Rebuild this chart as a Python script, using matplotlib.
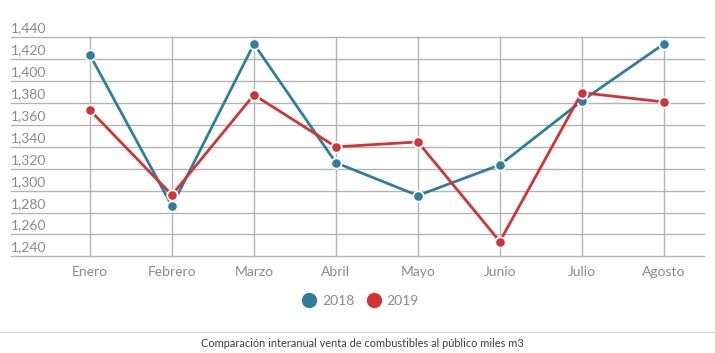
import matplotlib
matplotlib.use("Agg")
import matplotlib.pyplot as plt
from matplotlib.lines import Line2D

# ---------------------------------------------------------------------------
# Data (miles m3)
# ---------------------------------------------------------------------------
MONTHS = ["Enero", "Febrero", "Marzo", "Abril", "Mayo", "Junio", "Julio", "Agosto"]
SALES_2018 = [1424, 1286, 1434, 1325.5, 1295.5, 1323.5, 1382, 1434]
SALES_2019 = [1373.5, 1296, 1387.5, 1340, 1344.5, 1253.5, 1389.5, 1381]
Y_TICKS = list(range(1240, 1441, 20))

BLUE = "#2f7e9b"
RED = "#d13436"
GRID = "#b3b3b3"
TICK_COLOR = "#8a8a8a"

plt.rcParams["font.family"] = ["Lato", "DejaVu Sans"]

fig = plt.figure(figsize=(7.15, 3.53), dpi=100)
ax = fig.add_axes([0.0154, 0.274, 0.9692, 0.620])

x = list(range(len(MONTHS)))
for vals, color in ((SALES_2018, BLUE), (SALES_2019, RED)):
    ax.plot(x, vals, color=color, lw=2, marker="o", ms=7.5,
            mfc=color, mec="white", mew=1.3, zorder=3)

ax.set_xlim(-0.963, 7.49)
ax.set_ylim(1240, 1440)

ax.set_yticks(Y_TICKS)
ax.set_yticklabels([])
ax.set_xticks(x)
ax.set_xticklabels(MONTHS)
ax.tick_params(axis="x", length=0, pad=7, labelsize=10, labelcolor=TICK_COLOR)
ax.tick_params(axis="y", length=0)
ax.grid(True, color=GRID, lw=1)
for g in ax.get_xgridlines() + ax.get_ygridlines():
    g.set_clip_on(False)
ax.set_axisbelow(True)
for s in ax.spines.values():
    s.set_visible(False)

# y labels sit above their gridlines, flush with the left edge
for v in Y_TICKS:
    ax.annotate(f"{v:,}", xy=(0, v), xycoords=("axes fraction", "data"),
                xytext=(0, 2), textcoords="offset points",
                ha="left", va="bottom", fontsize=10, color=TICK_COLOR)

# legend
handles = [Line2D([], [], ls="none", marker="o", ms=10, mfc=c, mec=c)
           for c in (BLUE, RED)]
fig.legend(handles, ["2018", "2019"], loc="center", bbox_to_anchor=(0.504, 0.148),
           ncol=2, frameon=False, fontsize=10, labelcolor=TICK_COLOR,
           handletextpad=0.4, columnspacing=0.9, handlelength=1.0)

fig.add_artist(Line2D([0, 1], [0.0595, 0.0595], color="#d9d9d9", lw=1))
fig.text(0.507, 0.028, "Comparación interanual venta de combustibles al público miles m3",
         ha="center", va="center", fontsize=7.9, color="#3d3d3d")

fig.savefig("out.png", dpi=100)
